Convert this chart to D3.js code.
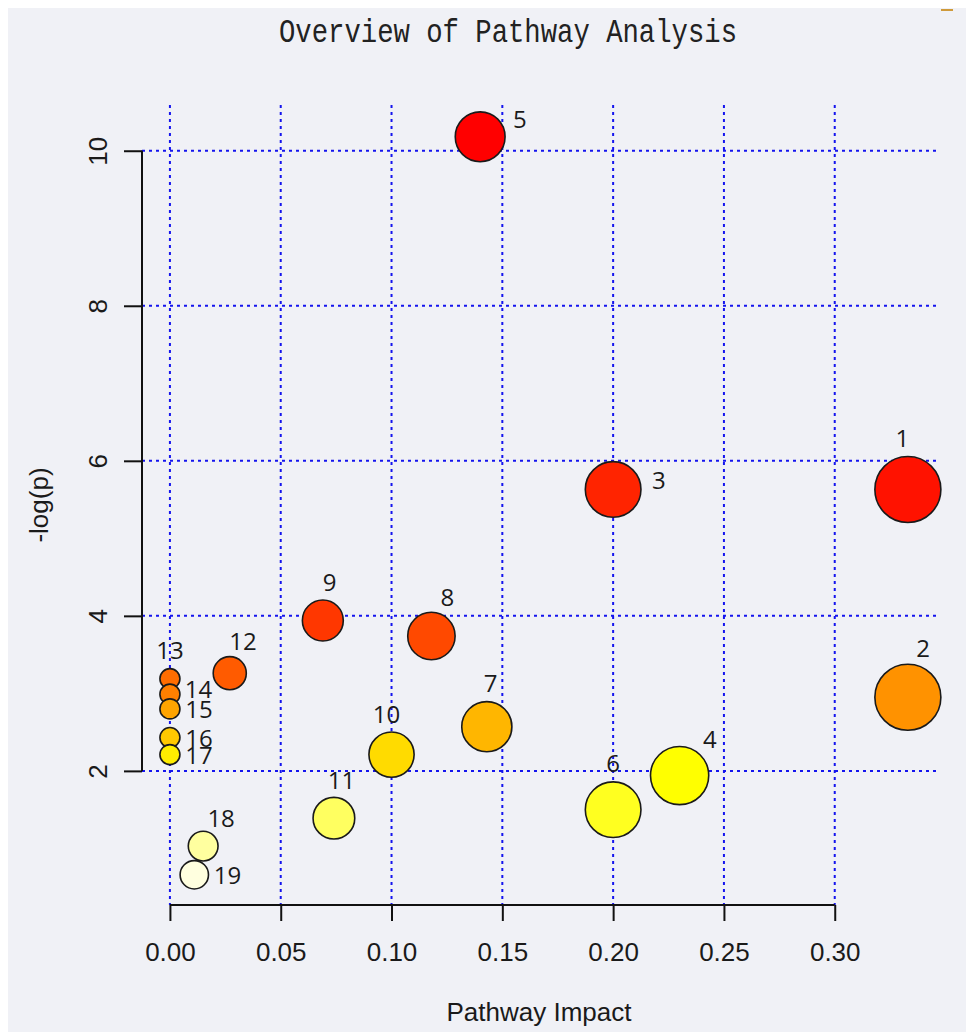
<!DOCTYPE html>
<html>
<head>
<meta charset="utf-8">
<script src="https://cdn.jsdelivr.net/npm/d3@7"></script>
<style>
  body { margin: 0; background: #fff; }
  svg { display: block; }
  .axis text { font-family: "Liberation Sans", Arial, sans-serif; font-size: 26px; fill: #1a1a1a; }
  .axis line, .axis-line { stroke: #111; stroke-width: 2; }
  .grid line { stroke: #1414ee; stroke-width: 2; stroke-dasharray: 3 4; }
  .point-label { font-family: "Open Sans", sans-serif; font-size: 24px; fill: #1a1a1a; }
</style>
</head>
<body>
<div id="chart"><svg></svg></div>
<script>
// pathway number, impact (x) and -log(p) (y)
const pathwayLabels = ['1', '2', '3', '4', '5', '6', '7', '8', '9', '10',
  '11', '12', '13', '14', '15', '16', '17', '18', '19']
const impact = [0.333, 0.333, 0.200, 0.230, 0.140, 0.200, 0.143, 0.118, 0.069, 0.100,
  0.074, 0.027, 0.000, 0.000, 0.000, 0.000, 0.000, 0.015, 0.011]
const negLogP = [5.63, 2.95, 5.63, 1.94, 10.18, 1.50, 2.57, 3.74, 3.94, 2.21,
  1.39, 3.26, 3.19, 2.99, 2.80, 2.43, 2.21, 1.03, 0.66]
// which side of the bubble the number sits on (degrees, 0 = right, 90 = above)
const labelAngle = [96, 73, 12, 51, 25, 90, 85, 68, 80, 97,
  79, 68, 90, 11, 0, 0, 0, 58, 0]

const xTicks = [0, 0.05, 0.10, 0.15, 0.20, 0.25, 0.30]
const yTicks = [2, 4, 6, 8, 10]
const xDomain = [-0.0126, 0.3475]
const yDomain = [0.27, 10.59]

const width = 966, height = 1032
const PLOT = { left: 142, right: 940, top: 105, bottom: 905 }

const $svg = d3.select('#chart svg')
  .attr('width', width)
  .attr('height', height)

// grey panel with the thin white edge at top/left
$svg.append('rect')
  .attr('x', 8).attr('y', 8)
  .attr('width', width - 8).attr('height', height - 8)
  .attr('fill', '#f0f1f6')
$svg.append('rect')
  .attr('x', 941).attr('y', 9).attr('width', 12).attr('height', 2)
  .attr('fill', '#cf9a3a')

const x = d3.scaleLinear().domain(xDomain).range([PLOT.left, PLOT.right])
const y = d3.scaleLinear().domain(yDomain).range([PLOT.bottom, PLOT.top])
const radius = d3.scaleSqrt().domain([0, 0.333]).range([10, 33])

// R style heat.colors, given out by rank of -log(p)
function heatColors(n) {
  const j = Math.floor(n / 4), i = n - j
  const cols = d3.range(i).map(k => d3.rgb(255, 255 * k / (i - 1), 0).formatHex())
  d3.range(j).forEach(k => {
    const s = 1 - 1 / (2 * j) - k / j
    cols.push(d3.rgb(255, 255, 255 * (1 - s)).formatHex())
  })
  return cols
}
const heat = heatColors(negLogP.length)
const rankOrder = d3.range(negLogP.length).sort((a, b) => negLogP[b] - negLogP[a])
const colorOf = []
rankOrder.forEach((idx, r) => { colorOf[idx] = heat[r] })

const dataset = pathwayLabels.map((label, i) => ({
  label,
  impact: impact[i],
  p: negLogP[i],
  angle: labelAngle[i],
  color: colorOf[i]
}))

// title
$svg.append('text')
  .attr('x', 508)
  .attr('y', 33)
  .attr('text-anchor', 'middle')
  .attr('dominant-baseline', 'central')
  .attr('textLength', 458)
  .attr('lengthAdjust', 'spacingAndGlyphs')
  .style('font-family', '"Liberation Mono", "Courier New", monospace')
  .style('font-size', '34px')
  .style('fill', '#222')
  .text('Overview of Pathway Analysis')

// grid
const $grid = $svg.append('g').attr('class', 'grid')
$grid.selectAll('.vgrid')
  .data(xTicks)
  .enter().append('line')
  .attr('x1', d => x(d)).attr('x2', d => x(d))
  .attr('y1', PLOT.top).attr('y2', PLOT.bottom)
$grid.selectAll('.hgrid')
  .data(yTicks)
  .enter().append('line')
  .attr('x1', PLOT.left).attr('x2', PLOT.right)
  .attr('y1', d => y(d)).attr('y2', d => y(d))

// x axis
const $xAxis = $svg.append('g')
  .attr('class', 'axis x-axis')
  .attr('transform', `translate(0, ${PLOT.bottom})`)
  .call(d3.axisBottom(x).tickValues(xTicks).tickSize(16).tickPadding(22).tickFormat(d3.format('.2f')))
$xAxis.select('.domain').remove()
$svg.append('line')
  .attr('class', 'axis-line')
  .attr('x1', x(xTicks[0])).attr('x2', x(xTicks[xTicks.length - 1]))
  .attr('y1', PLOT.bottom).attr('y2', PLOT.bottom)

// y axis
const $yAxis = $svg.append('g')
  .attr('class', 'axis y-axis')
  .attr('transform', `translate(${PLOT.left}, 0)`)
  .call(d3.axisLeft(y).tickValues(yTicks).tickSize(18))
$yAxis.select('.domain').remove()
$yAxis.selectAll('text')
  .attr('x', 0)
  .attr('dy', 0)
  .attr('text-anchor', 'middle')
  .attr('dominant-baseline', 'central')
  .attr('transform', 'translate(-44, 0) rotate(-90)')
$svg.append('line')
  .attr('class', 'axis-line')
  .attr('x1', PLOT.left).attr('x2', PLOT.left)
  .attr('y1', y(yTicks[0])).attr('y2', y(yTicks[yTicks.length - 1]))

// axis titles
$svg.append('text')
  .attr('class', 'axis')
  .attr('x', 539)
  .attr('y', 1012)
  .attr('text-anchor', 'middle')
  .attr('dominant-baseline', 'central')
  .style('font-family', '"Liberation Sans", Arial, sans-serif')
  .style('font-size', '26px')
  .style('fill', '#1a1a1a')
  .text('Pathway Impact')

$svg.append('text')
  .attr('transform', `translate(39, ${(PLOT.top + PLOT.bottom) / 2}) rotate(-90)`)
  .attr('text-anchor', 'middle')
  .attr('dominant-baseline', 'central')
  .style('font-family', '"Liberation Sans", Arial, sans-serif')
  .style('font-size', '26px')
  .style('fill', '#1a1a1a')
  .text('-log(p)')

// bubbles
const $points = $svg.append('g').attr('class', 'points')
$points.selectAll('circle')
  .data(dataset)
  .enter()
  .append('circle')
  .attr('cx', d => x(d.impact))
  .attr('cy', d => y(d.p))
  .attr('r', d => radius(d.impact))
  .attr('fill', d => d.color)
  .attr('stroke', '#1a1a1a')
  .attr('stroke-width', 1.6)

// numbers next to bubbles
$points.selectAll('.point-label')
  .data(dataset)
  .enter()
  .append('text')
  .attr('class', 'point-label')
  .attr('x', d => x(d.impact) + (radius(d.impact) + 19) * Math.cos(d.angle * Math.PI / 180))
  .attr('y', d => y(d.p) - (radius(d.impact) + 19) * Math.sin(d.angle * Math.PI / 180))
  .attr('text-anchor', 'middle')
  .attr('dominant-baseline', 'central')
  .text(d => d.label)
</script>
</body>
</html>
